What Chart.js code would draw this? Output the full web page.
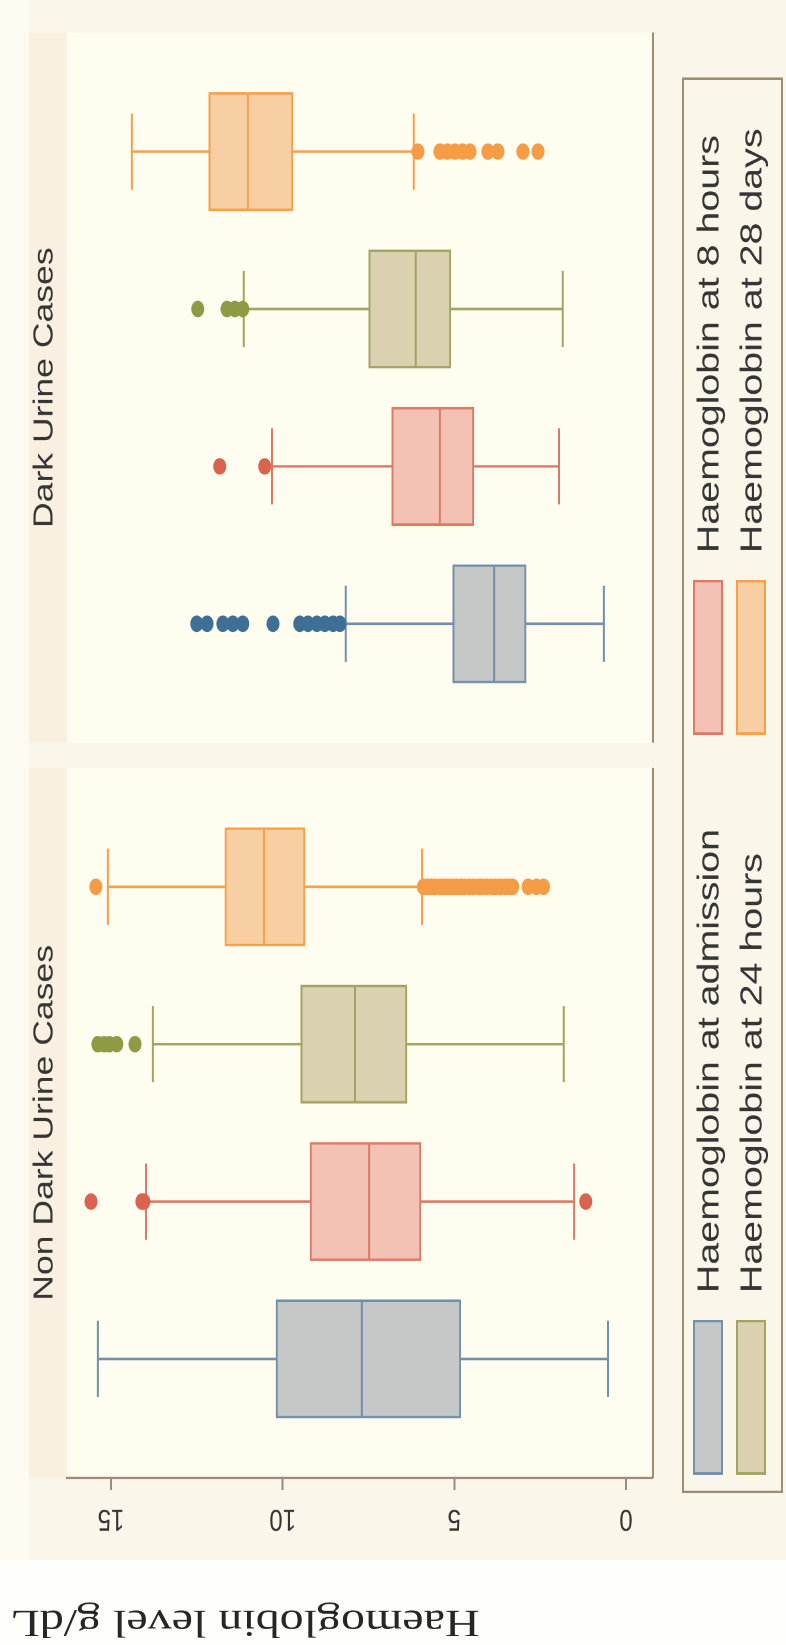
<!DOCTYPE html>
<html>
<head>
<meta charset="utf-8">
<title>Haemoglobin level by urine colour</title>
<script src="https://cdn.jsdelivr.net/npm/chart.js@4.4.0/dist/chart.umd.min.js"></script>
<style>
  html, body { margin: 0; padding: 0; background: #fbf6ea; overflow: hidden; }
  /* the figure is laid out upright, then turned a quarter turn like the scanned page */
  #wrap {
    position: absolute; left: 0; top: 0;
    width: 1295px; height: 786px;
    transform-origin: 0 0;
    transform: translate(0, 1645px) rotate(-90deg) scaleX(1.2703);
  }
</style>
</head>
<body>
<div id="wrap"><canvas id="hbChart"></canvas></div>
<script>
// ---- data ----
const groups = ['Non Dark Urine Cases', 'Dark Urine Cases'];
const timepoints = ['Haemoglobin at admission', 'Haemoglobin at 8 hours', 'Haemoglobin at 24 hours', 'Haemoglobin at 28 days'];
const yTicks = [0, 5, 10, 15];

const nonDarkLow = [0.52, 1.51, 1.81, 5.94];
const nonDarkQ1 = [4.81, 5.97, 6.38, 9.35];
const nonDarkMedian = [7.69, 7.48, 7.89, 10.54];
const nonDarkQ3 = [10.19, 9.20, 9.47, 11.68];
const nonDarkHigh = [15.38, 13.98, 13.78, 15.09];
const nonDarkOutliers = [
    [],
    [15.58, 14.1, 14.04, 1.17],
    [15.38, 15.2, 15.05, 14.83, 14.3],
    [15.44, 5.9, 5.78, 5.66, 5.55, 5.41, 5.3, 5.18, 5.05, 4.93, 4.8, 4.7, 4.56, 4.45, 4.3, 4.2, 4.06, 3.92, 3.8, 3.66, 3.52, 3.4, 3.3, 2.85, 2.6, 2.4]
];

const darkLow = [0.64, 1.95, 1.84, 6.18];
const darkQ1 = [2.91, 4.43, 5.10, 9.70];
const darkMedian = [3.84, 5.42, 6.12, 11.01];
const darkQ3 = [5.04, 6.82, 7.49, 12.15];
const darkHigh = [8.16, 10.31, 11.13, 14.39];
const darkOutliers = [
    [12.5, 12.2, 11.74, 11.45, 11.16, 10.28, 9.5, 9.26, 9.0, 8.77, 8.53, 8.33],
    [11.83, 10.52],
    [12.47, 11.62, 11.39, 11.16],
    [6.06, 5.42, 5.2, 4.98, 4.76, 4.54, 4.02, 3.73, 3.0, 2.56]
];

// ---- styles / layout ----
const fills = ['#c6c7c7', '#f4c2b4', '#d9d1b0', '#f8cfa3'];
const lines = ['#7290aa', '#db7b67', '#a3a45f', '#f5a14b'];
const dots = ['#3f6f95', '#d9634e', '#8f9a45', '#f59c45'];
const AXIS_COLOR = '#9d8c76';
const TEXT_COLOR = '#353535';
const SANS = '"Liberation Sans", Arial, sans-serif';

const PANEL_STRIDE = 4.671;   // distance between the two box groups, in box slots
const PANEL_HALF = 2.256;     // half width of a panel, in box slots
const BOX_W = 93;
const CAP_W = 60;

const stats = [
    { low: nonDarkLow, q1: nonDarkQ1, med: nonDarkMedian, q3: nonDarkQ3, high: nonDarkHigh, out: nonDarkOutliers },
    { low: darkLow, q1: darkQ1, med: darkMedian, q3: darkQ3, high: darkHigh, out: darkOutliers }
];

function xPos(g, t) {
    return 1 + t + g * PANEL_STRIDE;
}
function panelEdges(g) {
    const c = 2.5 + g * PANEL_STRIDE;
    return [c - PANEL_HALF, c + PANEL_HALF];
}

const datasets = [];
timepoints.forEach((label, t) => {
    datasets.push({
        type: 'bar',
        label: label,
        data: stats.map((s, g) => ({ x: xPos(g, t), y: [s.q1[t], s.q3[t]] })),
        backgroundColor: fills[t],
        borderColor: lines[t],
        borderWidth: 2,
        borderSkipped: false,
        barThickness: BOX_W,
        grouped: false,
        order: 2
    });
});
timepoints.forEach((label, t) => {
    datasets.push({
        type: 'scatter',
        label: label + ' (outside values)',
        data: stats.flatMap((s, g) => s.out[t].map(v => ({ x: xPos(g, t), y: v }))),
        pointRadius: 6.5,
        pointHoverRadius: 6.5,
        pointBackgroundColor: dots[t],
        pointBorderWidth: 0,
        order: 1
    });
});

// panels, strips and subtitles behind everything
const panelPlugin = {
    id: 'panels',
    beforeDraw(chart) {
        const { ctx, chartArea: a, scales: { x }, width, height } = chart;
        ctx.save();
        ctx.fillStyle = '#fbf6ea';
        ctx.fillRect(0, 0, width, height);
        ctx.fillStyle = '#fdfbf1';
        ctx.fillRect(0, 0, width, 29);
        ctx.fillStyle = '#fefefa';
        ctx.fillRect(0, 0, 67, height);
        groups.forEach((name, g) => {
            const [e0, e1] = panelEdges(g);
            const l = x.getPixelForValue(e0);
            const r = x.getPixelForValue(e1);
            ctx.fillStyle = '#fefdf0';
            ctx.fillRect(l, a.top, r - l, a.bottom - a.top);
            ctx.fillStyle = '#f9f0e2';
            ctx.fillRect(l, 29, r - l, a.top - 29);
            ctx.strokeStyle = AXIS_COLOR;
            ctx.lineWidth = 2;
            ctx.beginPath();
            ctx.moveTo(l, a.bottom + 1);
            ctx.lineTo(r, a.bottom + 1);
            ctx.stroke();
            ctx.fillStyle = TEXT_COLOR;
            ctx.font = '28px ' + SANS;
            ctx.textAlign = 'center';
            ctx.textBaseline = 'middle';
            ctx.fillText(name, (l + r) / 2, 45);
        });
        ctx.restore();
    },
    // whiskers and caps go under the boxes and dots
    beforeDatasetsDraw(chart) {
        const { ctx, scales: { x, y } } = chart;
        ctx.save();
        ctx.lineWidth = 2;
        stats.forEach((s, g) => {
            timepoints.forEach((_, t) => {
                const cx = x.getPixelForValue(xPos(g, t));
                const yl = y.getPixelForValue(s.low[t]);
                const yh = y.getPixelForValue(s.high[t]);
                ctx.strokeStyle = lines[t];
                ctx.beginPath();
                ctx.moveTo(cx, y.getPixelForValue(s.q1[t]));
                ctx.lineTo(cx, yl);
                ctx.moveTo(cx, y.getPixelForValue(s.q3[t]));
                ctx.lineTo(cx, yh);
                ctx.moveTo(cx - CAP_W / 2, yl);
                ctx.lineTo(cx + CAP_W / 2, yl);
                ctx.moveTo(cx - CAP_W / 2, yh);
                ctx.lineTo(cx + CAP_W / 2, yh);
                ctx.stroke();
            });
        });
        ctx.restore();
    },
    // medians on top of the boxes
    afterDatasetsDraw(chart) {
        const { ctx, scales: { x, y } } = chart;
        ctx.save();
        ctx.lineWidth = 2;
        stats.forEach((s, g) => {
            timepoints.forEach((_, t) => {
                const cx = x.getPixelForValue(xPos(g, t));
                const ym = y.getPixelForValue(s.med[t]);
                ctx.strokeStyle = lines[t];
                ctx.beginPath();
                ctx.moveTo(cx - BOX_W / 2 + 1, ym);
                ctx.lineTo(cx + BOX_W / 2 - 1, ym);
                ctx.stroke();
            });
        });
        ctx.restore();
    },
    // legend box and axis title
    afterDraw(chart) {
        const { ctx } = chart;
        ctx.save();
        ctx.strokeStyle = AXIS_COLOR;
        ctx.lineWidth = 2;
        ctx.strokeRect(120.5, 683, 1112.5, 99);
        timepoints.forEach((label, t) => {
            const sx = [134, 716.5][t % 2];
            const sy = [693, 736][Math.floor(t / 2)];
            ctx.fillStyle = fills[t];
            ctx.fillRect(sx, sy, 122, 30);
            ctx.strokeStyle = lines[t];
            ctx.strokeRect(sx + 1, sy + 1, 120, 28);
            ctx.fillStyle = TEXT_COLOR;
            ctx.font = '31px ' + SANS;
            ctx.textAlign = 'left';
            ctx.textBaseline = 'middle';
            ctx.fillText(label, sx + 143, sy + 17);
        });

        ctx.translate(19, 245);
        ctx.scale(0.63, 1);
        ctx.rotate(-Math.PI / 2);
        ctx.fillStyle = '#262626';
        ctx.font = '48px "Liberation Serif", "Times New Roman", serif';
        ctx.textAlign = 'center';
        ctx.textBaseline = 'middle';
        ctx.fillText('Haemoglobin level g/dL', 0, 0);
        ctx.restore();
    }
};

const ctx = document.getElementById('hbChart').getContext('2d');
new Chart(ctx, {
    type: 'bar',
    data: { datasets: datasets },
    options: {
        responsive: true,
        maintainAspectRatio: false,
        devicePixelRatio: 2,
        animation: false,
        events: [],
        layout: {
            padding: { left: 86.5, right: 25.7, top: 67, bottom: 134 }
        },
        plugins: {
            legend: { display: false },
            tooltip: { enabled: false }
        },
        scales: {
            x: {
                type: 'linear',
                display: false,
                offset: false,
                min: panelEdges(0)[0],
                max: panelEdges(1)[1]
            },
            y: {
                type: 'linear',
                min: -0.76,
                max: 16.28,
                afterBuildTicks: (scale) => {
                    scale.ticks = yTicks.map(v => ({ value: v }));
                },
                afterFit: (scale) => {
                    scale.width = 45;
                },
                grid: {
                    drawOnChartArea: false,
                    drawTicks: true,
                    tickLength: 9.5,
                    color: AXIS_COLOR,
                    lineWidth: 2
                },
                border: { color: AXIS_COLOR, width: 2 },
                ticks: {
                    minRotation: 90,
                    maxRotation: 90,
                    crossAlign: 'center',
                    padding: 9,
                    color: TEXT_COLOR,
                    font: { family: SANS, size: 24 }
                }
            }
        }
    },
    plugins: [panelPlugin]
});
</script>
</body>
</html>
